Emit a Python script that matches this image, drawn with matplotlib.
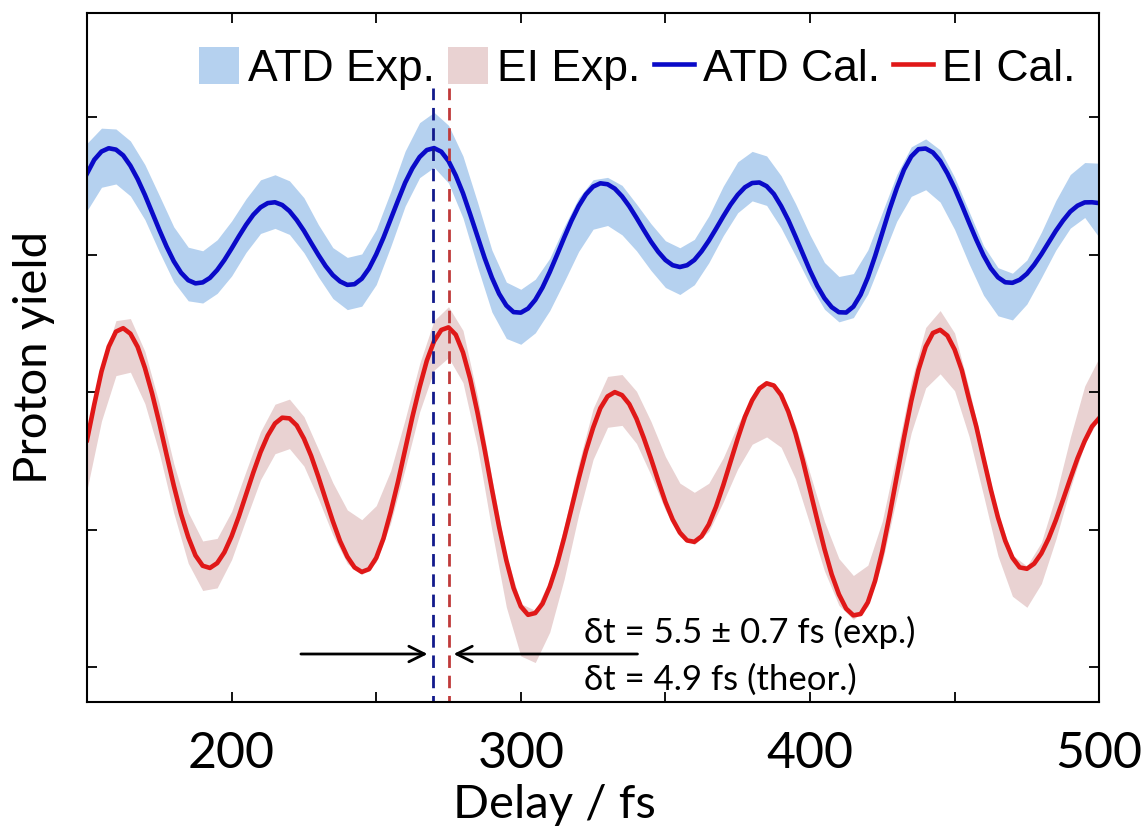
import matplotlib
matplotlib.use("Agg")
import matplotlib.pyplot as plt
import numpy as np

# delay grids (fs)
delay_cal = [150 + 2.5 * i for i in range(141)]
delay_exp = list(range(150, 505, 5))

# calculated yields (arbitrary offset units), every 2.5 fs
atd_cal = [4.59, 4.69, 4.75, 4.774, 4.764, 4.722, 4.647, 4.55, 4.435, 4.308,
           4.18, 4.059, 3.952, 3.869, 3.814, 3.791, 3.798, 3.831, 3.888, 3.961,
           4.045, 4.133, 4.217, 4.29, 4.344, 4.375, 4.381, 4.361, 4.317, 4.252,
           4.174, 4.085, 3.998, 3.917, 3.851, 3.805, 3.78, 3.785, 3.825, 3.899,
           4.002, 4.123, 4.258, 4.392, 4.523, 4.628, 4.71, 4.761, 4.775, 4.749,
           4.681, 4.576, 4.447, 4.293, 4.133, 3.975, 3.833, 3.715, 3.63, 3.582,
           3.578, 3.608, 3.671, 3.761, 3.873, 3.997, 4.124, 4.246, 4.353, 4.438,
           4.495, 4.519, 4.512, 4.48, 4.424, 4.352, 4.268, 4.18, 4.095, 4.021,
           3.961, 3.923, 3.91, 3.923, 3.961, 4.024, 4.101, 4.188, 4.278, 4.363,
           4.435, 4.49, 4.521, 4.525, 4.498, 4.441, 4.354, 4.251, 4.131, 4.006,
           3.883, 3.773, 3.683, 3.618, 3.581, 3.579, 3.622, 3.709, 3.834, 3.989,
           4.158, 4.329, 4.483, 4.618, 4.714, 4.767, 4.772, 4.743, 4.682, 4.591,
           4.483, 4.361, 4.233, 4.109, 3.995, 3.901, 3.835, 3.799, 3.795, 3.817,
           3.861, 3.926, 4.003, 4.088, 4.173, 4.248, 4.313, 4.356, 4.38, 4.381,
           4.375]
ei_cal = [2.651, 2.91, 3.15, 3.33, 3.44, 3.465, 3.425, 3.329, 3.177, 2.99,
          2.776, 2.545, 2.32, 2.114, 1.945, 1.812, 1.737, 1.721, 1.756, 1.835,
          1.952, 2.096, 2.256, 2.415, 2.563, 2.684, 2.772, 2.814, 2.809, 2.758,
          2.662, 2.536, 2.384, 2.221, 2.061, 1.916, 1.803, 1.725, 1.692, 1.712,
          1.794, 1.935, 2.128, 2.345, 2.582, 2.819, 3.036, 3.229, 3.37, 3.452,
          3.471, 3.418, 3.289, 3.096, 2.853, 2.581, 2.294, 2.019, 1.776, 1.575,
          1.441, 1.38, 1.393, 1.461, 1.584, 1.745, 1.941, 2.153, 2.369, 2.57,
          2.741, 2.883, 2.969, 3.0, 2.978, 2.913, 2.806, 2.668, 2.517, 2.356,
          2.201, 2.073, 1.978, 1.921, 1.911, 1.951, 2.037, 2.166, 2.322, 2.491,
          2.662, 2.82, 2.941, 3.026, 3.064, 3.048, 2.979, 2.858, 2.699, 2.504,
          2.287, 2.071, 1.859, 1.674, 1.529, 1.425, 1.376, 1.386, 1.471, 1.627,
          1.842, 2.103, 2.384, 2.669, 2.934, 3.161, 3.33, 3.43, 3.453, 3.411,
          3.31, 3.159, 2.948, 2.75, 2.519, 2.293, 2.088, 1.919, 1.795, 1.725,
          1.715, 1.752, 1.827, 1.935, 2.068, 2.217, 2.37, 2.518, 2.645, 2.75,
          2.811]

# experimental bands: extent above / below the calculated curve, every 5 fs
atd_up = [.22, .17, .15, .18, .22, .25, .25, .24, .23, .22,
          .20, .19, .20, .20, .22, .24, .22, .20, .20, .18,
          .18, .20, .23, .25, .26, .26, .27, .25, .20, .17,
          .17, .15, .10, .08, .06, .05, .05, .08, .10, .13,
          .14, .14, .15, .18, .22, .24, .23, .22, .22, .24,
          .26, .26, .26, .24, .20, .15, .10, .07, .07, .08,
          .08, .08, .07, .07, .07, .10, .16, .22, .27, .29,
          .29]
atd_dn = [.27, .26, .25, .22, .18, .16, .15, .15, .15, .17,
          .20, .20, .19, .19, .17, .16, .16, .17, .18, .20,
          .22, .20, .17, .15, .14, .16, .18, .22, .25, .24,
          .23, .24, .28, .32, .33, .31, .30, .28, .24, .21,
          .20, .20, .18, .16, .14, .13, .13, .14, .16, .14,
          .10, .08, .07, .08, .12, .18, .24, .29, .30, .30,
          .30, .30, .29, .28, .27, .22, .17, .14, .12, .11,
          .25]
ei_up = [.00, .03, .08, .11, .12, .14, .16, .18, .18, .18,
         .18, .17, .15, .14, .14, .16, .20, .28, .34, .38,
         .38, .30, .22, .17, .15, .15, .16, .12, .08, .04,
         .02, .02, .05, .08, .11, .14, .145, .15, .20, .27,
         .33, .36, .36, .30, .20, .10, .03, .00, .02, .06,
         .12, .20, .26, .29, .27, .22, .17, .14, .14, .14,
         .12, .08, .05, .03, .02, .02, .08, .18, .30, .40,
         .44]
ei_dn = [.36, .36, .32, .28, .26, .22, .20, .19, .18, .18,
         .17, .18, .20, .22, .22, .20, .16, .10, .05, .02,
         .03, .08, .14, .18, .21, .22, .22, .25, .30, .34,
         .36, .36, .33, .30, .26, .23, .225, .22, .18, .12,
         .06, .03, .02, .05, .12, .22, .32, .39, .38, .33,
         .25, .16, .08, .03, .03, .08, .15, .23, .30, .32,
         .30, .27, .27, .28, .28, .28, .22, .14, .07, .02,
         .00]

# delay markers
t_atd = 269.5
t_ei = 275.0

xc = np.array(delay_cal)
xe = np.array(delay_exp)
ac = np.array(atd_cal)
ec = np.array(ei_cal)

fig = plt.figure(figsize=(11.45, 8.27), dpi=100)
ax = fig.add_axes([0.076, 0.151, 0.884, 0.833])

txt_font = ['Lato', 'DejaVu Sans']

# bands sit on the 5 fs grid (every second calc point)
ax.fill_between(xe, ac[::2] - np.array(atd_dn), ac[::2] + np.array(atd_up),
                color='#b5d1ef', lw=0, label='ATD Exp.')
ax.fill_between(xe, ec[::2] - np.array(ei_dn), ec[::2] + np.array(ei_up),
                color='#e9d2d2', lw=0, label='EI Exp.')
ax.plot(xc, ac, color='#0a0ac8', lw=3.3, label='ATD Cal.')
ax.plot(xc, ec, color='#e01818', lw=3.3, label='EI Cal.')

ax.vlines(t_atd, 0.7, 5.21, colors='#121a8c', linestyles=(0, (4.5, 2.8)), lw=2)
ax.vlines(t_ei, 0.7, 5.21, colors='#c03a3a', linestyles=(0, (4.5, 2.8)), lw=2)

# arrows pointing at the two peak positions
ax.annotate('', xy=(t_atd - 0.8, 1.095), xytext=(223, 1.095),
            arrowprops=dict(arrowstyle='->', lw=2, color='black',
                            mutation_scale=28))
ax.annotate('', xy=(t_ei + 0.8, 1.095), xytext=(341.3, 1.095),
            arrowprops=dict(arrowstyle='->', lw=2, color='black',
                            mutation_scale=28))
ax.text(322, 1.175, 'δt = 5.5 ± 0.7 fs (exp.)', fontsize=25,
        family=txt_font, va='baseline')
ax.text(322, 0.833, 'δt = 4.9 fs (theor.)', fontsize=25,
        family=txt_font, va='baseline')

ax.set_xlim(150, 500)
ax.set_ylim(0.745, 5.756)
ax.set_xticks([200, 300, 400, 500])
ax.set_xticks([150, 250, 350, 450], minor=True)
ax.set_yticks([1, 2, 3, 4, 5])
ax.set_yticklabels([])
ax.tick_params(which='both', direction='in', top=True, right=True,
               length=7, width=1.3, labelsize=36, pad=21)
for lab in ax.get_xticklabels():
    lab.set_family(txt_font)
for s in ax.spines.values():
    s.set_linewidth(1.5)

ax.set_xlabel('Delay / fs', fontsize=34, family=txt_font)
ax.xaxis.set_label_coords(0.462, -0.119)
ax.set_ylabel('Proton yield', fontsize=34, family=txt_font)
ax.yaxis.set_label_coords(-0.032, 0.5)

leg = ax.legend(loc='upper right', bbox_to_anchor=(1.003, 0.99), ncol=4,
                frameon=False, prop={'family': 'Liberation Sans', 'size': 32},
                handlelength=0.9, handleheight=0.9, handletextpad=0.2,
                columnspacing=0.3, borderaxespad=0.2)

fig.savefig('out.png', dpi=100)
